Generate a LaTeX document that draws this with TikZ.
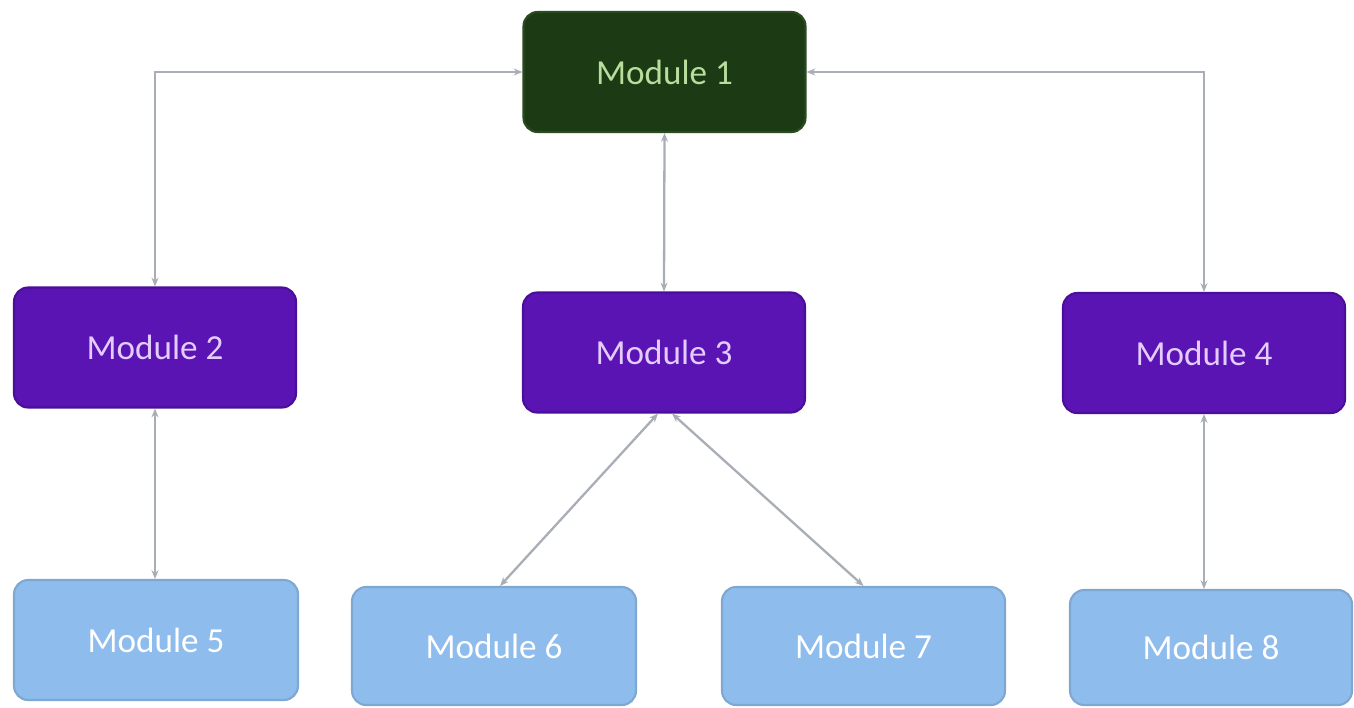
\documentclass[tikz,border=0pt]{standalone}
\usepackage{fontspec}
\setmainfont{Carlito}
\usetikzlibrary{arrows.meta,calc}
\definecolor{topfill}{HTML}{1C3A14}
\definecolor{topline}{HTML}{2A4A20}
\definecolor{toptext}{HTML}{B8DE9E}
\definecolor{midfill}{HTML}{5A14B4}
\definecolor{midline}{HTML}{4A0E98}
\definecolor{midtext}{HTML}{E4CCFF}
\definecolor{lowfill}{HTML}{8EBCEC}
\definecolor{lowline}{HTML}{7EA8D2}
\definecolor{linkgray}{HTML}{A9AEB6}
\tikzset{
  modbox/.style={rounded corners=8pt, minimum width=5.64cm, minimum height=2.4cm,
    line width=1.2pt, font=\fontsize{20}{24}\selectfont, inner sep=0pt},
  topbox/.style={modbox, fill=topfill, draw=topline, text=toptext},
  midbox/.style={modbox, fill=midfill, draw=midline, text=midtext},
  lowbox/.style={modbox, fill=lowfill, draw=lowline, text=white},
  link/.style={draw=linkgray, line width=1.3pt,
    {Stealth[length=5pt,width=4pt]}-{Stealth[length=5pt,width=4pt]}}
}
\begin{document}
\begin{tikzpicture}[x=0.02cm, y=-0.02cm]
  \useasboundingbox[fill=white] (0,0) rectangle (1354,707);

  % top level
  \node[topbox] (m1) at (664.5,72) {Module 1};

  % second level
  \node[midbox] (m2) at (155,347.5) {Module 2};
  \node[midbox] (m3) at (664,352.5) {Module 3};
  \node[midbox] (m4) at (1204,353) {Module 4};

  % third level
  \node[lowbox, minimum width=5.68cm] (m5) at (156,640) {Module 5};
  \node[lowbox, minimum width=5.68cm, minimum height=2.36cm] (m6) at (494,646) {Module 6};
  \node[lowbox, minimum width=5.66cm, minimum height=2.36cm] (m7) at (863.5,646) {Module 7};
  \node[lowbox, minimum height=2.3cm] (m8) at (1211,647.5) {Module 8};

  % connectors
  \draw[link] (m1.west) -| (m2.north);
  \draw[link] (m1.east) -| (m4.north);
  \draw[link] (m1.south) -- (m3.north);
  \draw[link] (m2.south) -- (m2.south |- m5.north);
  \draw[link] (m4.south) -- (m4.south |- m8.north);
  \draw[link] ($(m3.south)+(-6,0)$) -- ($(m6.north)+(6,0)$);
  \draw[link] ($(m3.south)+(8,0)$) -- (m7.north);
\end{tikzpicture}
\end{document}
